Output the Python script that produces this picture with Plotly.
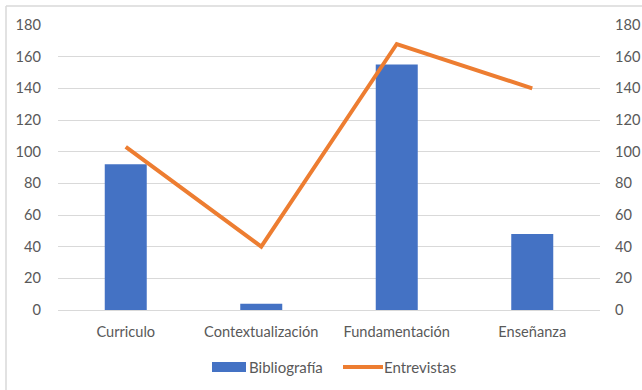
import plotly.graph_objects as go

categories = ["Curriculo", "Contextualización", "Fundamentación", "Enseñanza"]
bibliografia = [92, 4, 155, 48]
entrevistas = [103, 40, 168, 140]
tick_vals = [0, 20, 40, 60, 80, 100, 120, 140, 160, 180]

font_family = "Lato, 'Open Sans', sans-serif"
BAR_COLOR = "#4472C4"
LINE_COLOR = "#ED7D31"

L, R, T, B = 58, 42, 25, 80
W, H = 642, 390
PW, PH = W - L - R, H - T - B


def px(x):
    return (x - L) / PW


def py(y):
    return (H - B - y) / PH


fig = go.Figure()
fig.add_trace(go.Bar(
    x=categories, y=bibliografia, name="Bibliografía",
    marker=dict(color=BAR_COLOR, line=dict(width=0)), width=0.31,
))
fig.add_trace(go.Scatter(
    x=categories, y=entrevistas, name="Entrevistas", yaxis="y2",
    mode="lines", line=dict(color=LINE_COLOR, width=4),
))

axis_font = dict(family=font_family, size=14.6, color="#595959")
fig.update_layout(
    width=W, height=H,
    margin=dict(l=L, r=R, t=T, b=B),
    paper_bgcolor="white", plot_bgcolor="white",
    font=dict(family=font_family, size=14.6, color="#595959"),
    showlegend=False,
    xaxis=dict(showgrid=False, showline=True, linecolor="#d9d9d9", linewidth=1,
               tickfont=axis_font, ticks="", ticklabelstandoff=8, automargin=False),
    yaxis=dict(range=[0, 180], tickvals=tick_vals, showgrid=True, gridcolor="#d9d9d9",
               gridwidth=1, zeroline=False, showline=False, tickfont=axis_font,
               ticklabelstandoff=16, ticks="", automargin=False),
    yaxis2=dict(range=[0, 180], tickvals=tick_vals, overlaying="y", side="right",
                showgrid=False, zeroline=False, showline=False, tickfont=axis_font,
                ticklabelstandoff=14, ticks="", automargin=False),
)

# custom legend
legend_font = dict(family=font_family, size=15, color="#595959")
fig.add_shape(type="rect", xref="paper", yref="paper",
              x0=px(212), x1=px(246), y0=py(372), y1=py(362),
              fillcolor=BAR_COLOR, line=dict(width=0))
fig.add_annotation(xref="paper", yref="paper", x=px(247), y=py(367), text="Bibliografía",
                   showarrow=False, xanchor="left", yanchor="middle", font=legend_font)
fig.add_shape(type="line", xref="paper", yref="paper",
              x0=px(343), x1=px(383), y0=py(367), y1=py(367),
              line=dict(color=LINE_COLOR, width=4))
fig.add_annotation(xref="paper", yref="paper", x=px(382), y=py(367), text="Entrevistas",
                   showarrow=False, xanchor="left", yanchor="middle", font=legend_font)

# light chart border (left and top)
fig.add_shape(type="line", xref="paper", yref="paper", x0=px(6), x1=px(6), y0=py(6), y1=py(392),
              line=dict(color="#d9d9d9", width=1.5))
fig.add_shape(type="line", xref="paper", yref="paper", x0=px(6), x1=px(645), y0=py(6), y1=py(6),
              line=dict(color="#d9d9d9", width=1.5))

fig.write_html("out.html")
